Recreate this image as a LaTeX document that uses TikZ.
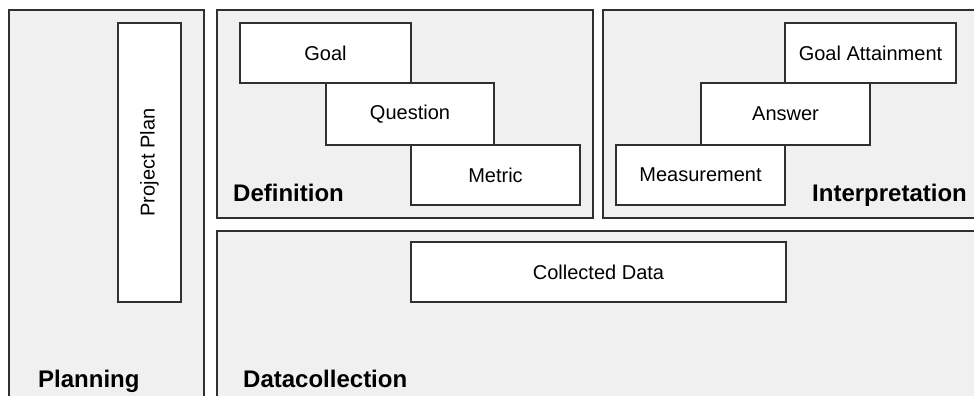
\documentclass[tikz,border=0pt]{standalone}
\usepackage{fontspec}
\setmainfont{Liberation Sans}
\definecolor{panelgray}{HTML}{F0F0F0}
\definecolor{edgegray}{HTML}{303030}

\begin{document}
\begin{tikzpicture}[x=1pt, y=-1pt]
	\tikzstyle{phase} = [rectangle, draw=edgegray, fill=panelgray, line width = 1.5pt, inner sep=0pt]
	\tikzstyle{item} = [rectangle, draw=edgegray, fill=white, line width = 1.5pt, inner sep=0pt, minimum width = 169pt, minimum height = 60pt, font=\fontsize{20}{24}\selectfont]
	\tikzstyle{title} = [anchor=base west, inner sep=0pt, font=\fontsize{24}{28}\selectfont\bfseries]
	\useasboundingbox (0,0) rectangle (974,396);
	\clip (0,0) rectangle (974,396);
	
	\node[phase, minimum width = 195pt, minimum height = 400pt] at (106.5,210) (planning) {};
	\node[phase, minimum width = 376pt, minimum height = 208pt] at (405,114) (definition) {};
	\node[phase, minimum width = 387pt, minimum height = 208pt] at (796.5,114) (interpretation) {};
	\node[phase, minimum width = 773pt, minimum height = 179pt] at (603.5,320.5) (datacollection) {};
	
	\node[item, rotate=90, minimum width = 279pt, minimum height = 63pt] at (149.5,162.5) (plan) {Project Plan};
	
	\node[item, minimum width = 171pt] at (325.5,53) (goal) {Goal};
	\node[item, minimum width = 168pt, minimum height = 62pt] at (410,114) (question) {Question};
	\node[item] at (495.5,175) (metric) {Metric};
	
	\node[item, minimum width = 171pt] at (870.5,53) (attain) {Goal Attainment};
	\node[item, minimum height = 62pt] at (785.5,114) (answer) {Answer};
	\node[item] at (700.5,175) (measure) {Measurement};
	
	\node[item, minimum width = 375pt] at (598.5,272) (data) {Collected Data};
	
	\node[title] at (38,387) (planlabel) {Planning};
	\node[title] at (233,201) (deflabel) {Definition};
	\node[title] at (812,201) (intlabel) {Interpretation};
	\node[title] at (243,387) (datalabel) {Datacollection};
\end{tikzpicture}
\end{document}
